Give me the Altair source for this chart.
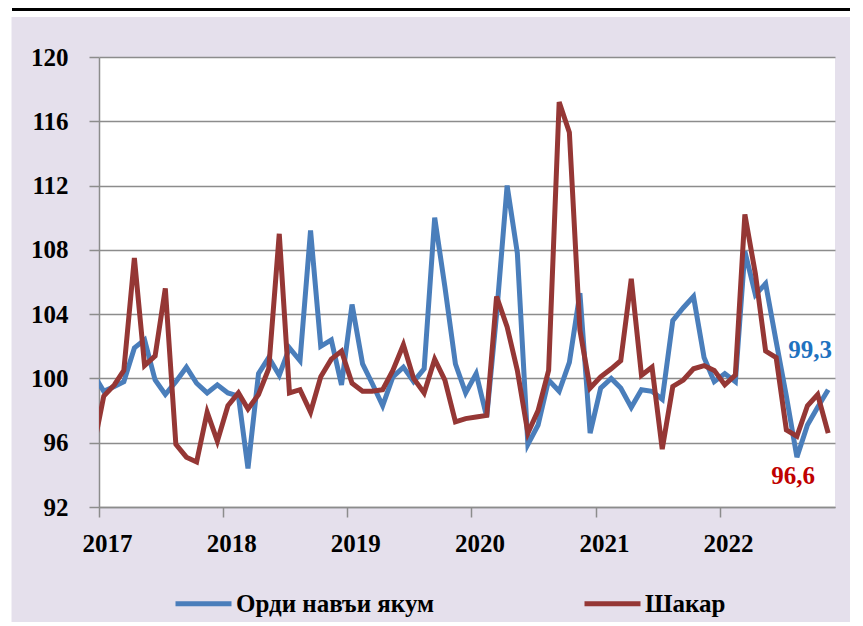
import altair as alt
import pandas as pd

# ---- data (monthly indices, mid-month points; first point = Dec 2016) ----
series_names = ["Орди навъи якум", "Шакар"]

flour = [
    100.3,
    99.2, 99.5, 99.8, 101.9, 102.4, 99.9, 99.0, 99.8, 100.7, 99.7, 99.1, 99.6,
    99.1, 98.9, 94.4, 100.3, 101.3, 100.2, 101.9, 101.1, 109.2, 102.0, 102.4, 99.6,
    104.6, 100.9, 99.7, 98.3, 100.1, 100.7, 99.8, 100.6, 110.0, 105.7, 100.9, 99.1,
    100.3, 97.6, 104.0, 112.0, 107.8, 95.9, 97.1, 99.9, 99.2, 101.0, 105.3, 96.6,
    99.4, 100.0, 99.4, 98.2, 99.3, 99.2, 98.7, 103.6, 104.4, 105.1, 101.3, 99.8,
    100.3, 99.8, 107.9, 105.2, 105.9, 102.3, 98.9, 95.1, 97.1, 98.2, 99.3,
]
sugar = [
    95.6,
    98.9, 99.6, 100.5, 107.5, 100.8, 101.4, 105.6, 95.9, 95.1, 94.8, 97.9, 96.1,
    98.3, 99.1, 98.1, 99.0, 100.6, 109.0, 99.1, 99.3, 97.9, 100.1, 101.2, 101.7,
    99.7, 99.2, 99.2, 99.3, 100.5, 102.1, 100.0, 99.1, 101.2, 99.9, 97.3, 97.5,
    97.6, 97.7, 105.1, 103.2, 100.5, 96.6, 98.0, 100.5, 117.2, 115.3, 103.0, 99.4,
    100.1, 100.6, 101.1, 106.2, 100.2, 100.7, 95.6, 99.5, 99.9, 100.6, 100.8, 100.5,
    99.6, 100.2, 110.2, 106.5, 101.7, 101.3, 96.8, 96.4, 98.3, 99.0, 96.6,
]
dates = (pd.date_range("2016-12-01", periods=len(flour), freq="MS")
         + pd.Timedelta(days=14)).strftime("%Y-%m-%d").tolist()

year_ticks = [2017, 2018, 2019, 2020, 2021, 2022]
y_ticks = [92, 96, 100, 104, 108, 112, 116, 120]

df = pd.concat([
    pd.DataFrame({"date": dates, "value": flour, "series": series_names[0]}),
    pd.DataFrame({"date": dates, "value": sugar, "series": series_names[1]}),
])
last = df.groupby("series").tail(1).copy()
last["label"] = last["value"].map(lambda v: f"{v:.1f}".replace(".", ","))

FONT = "Liberation Serif"
GRID = "#8C8C8C"
BLUE = "#4A7EBB"
RED = "#953735"

x_enc = alt.X(
    "date:T",
    scale=alt.Scale(
        type="utc",
        domain=[alt.DateTime(year=2017, month=1, date=1, utc=True),
                alt.DateTime(year=2022, month=12, date=5, utc=True)],
    ),
    axis=alt.Axis(
        values=[alt.DateTime(year=y, month=1, date=1, utc=True) for y in year_ticks],
        format="%Y", formatType="utc", title=None, grid=False, labelFlush=False,
        labelFont=FONT, labelFontSize=25, labelFontWeight="bold", labelColor="black",
        labelPadding=14, labelOffset=8, tickSize=10, tickColor=GRID, tickWidth=1.5,
        domainColor=GRID, domainWidth=1.5,
    ),
)
y_enc = alt.Y(
    "value:Q",
    scale=alt.Scale(domain=[92, 120], nice=False, zero=False),
    axis=alt.Axis(
        values=y_ticks, title=None, format="d",
        labelFont=FONT, labelFontSize=25, labelFontWeight="bold", labelColor="black",
        labelPadding=21, tickSize=10, tickColor=GRID, tickWidth=1.5,
        domainColor=GRID, domainWidth=1.5, gridColor=GRID, gridWidth=1.5,
    ),
)

lines = alt.Chart(df).mark_line(strokeWidth=5, clip=True).encode(
    x=x_enc,
    y=y_enc,
    color=alt.Color(
        "series:N",
        scale=alt.Scale(domain=series_names, range=[BLUE, RED]),
        legend=alt.Legend(
            title=None, orient="none", legendX=74, legendY=516, direction="horizontal",
            symbolType="stroke", symbolSize=3136, symbolStrokeWidth=5,
            labelFont=FONT, labelFontSize=25, labelFontWeight="bold", labelColor="black",
            labelOffset=2, labelLimit=0, columnPadding=139, padding=0,
        ),
    ),
)

lab_blue = alt.Chart(last[last["series"] == series_names[0]]).mark_text(
    font=FONT, fontSize=25, fontWeight="bold", color="#1F72BF",
    align="center", baseline="middle", dx=-18, dy=-40,
).encode(x="date:T", y="value:Q", text="label:N")

lab_red = alt.Chart(last[last["series"] == series_names[1]]).mark_text(
    font=FONT, fontSize=25, fontWeight="bold", color="#C00000",
    align="center", baseline="middle", dx=-35, dy=43,
).encode(x="date:T", y="value:Q", text="label:N")

one = pd.DataFrame({"d": [0]})
white_strip = alt.Chart(one).mark_rect(color="white", clip=False).encode(
    x=alt.value(-91), x2=alt.value(751), y=alt.value(-49), y2=alt.value(-40))
white_left = alt.Chart(one).mark_rect(color="white", clip=False).encode(
    x=alt.value(-91), x2=alt.value(-87.5), y=alt.value(-49), y2=alt.value(565))
black_line = alt.Chart(one).mark_rect(color="black", clip=False).encode(
    x=alt.value(-87), x2=alt.value(751), y=alt.value(-49), y2=alt.value(-46))

chart = alt.layer(white_strip, white_left, black_line, lines, lab_blue, lab_red).properties(
    width=736, height=450,
    autosize=alt.AutoSizeParams(type="none"),
    padding={"left": 91, "top": 49, "right": 15, "bottom": 115},
    background="#E5E0EC",
).configure_view(fill="white", stroke=None)

chart.save("out.html", embed_options={"renderer": "svg", "actions": False})
